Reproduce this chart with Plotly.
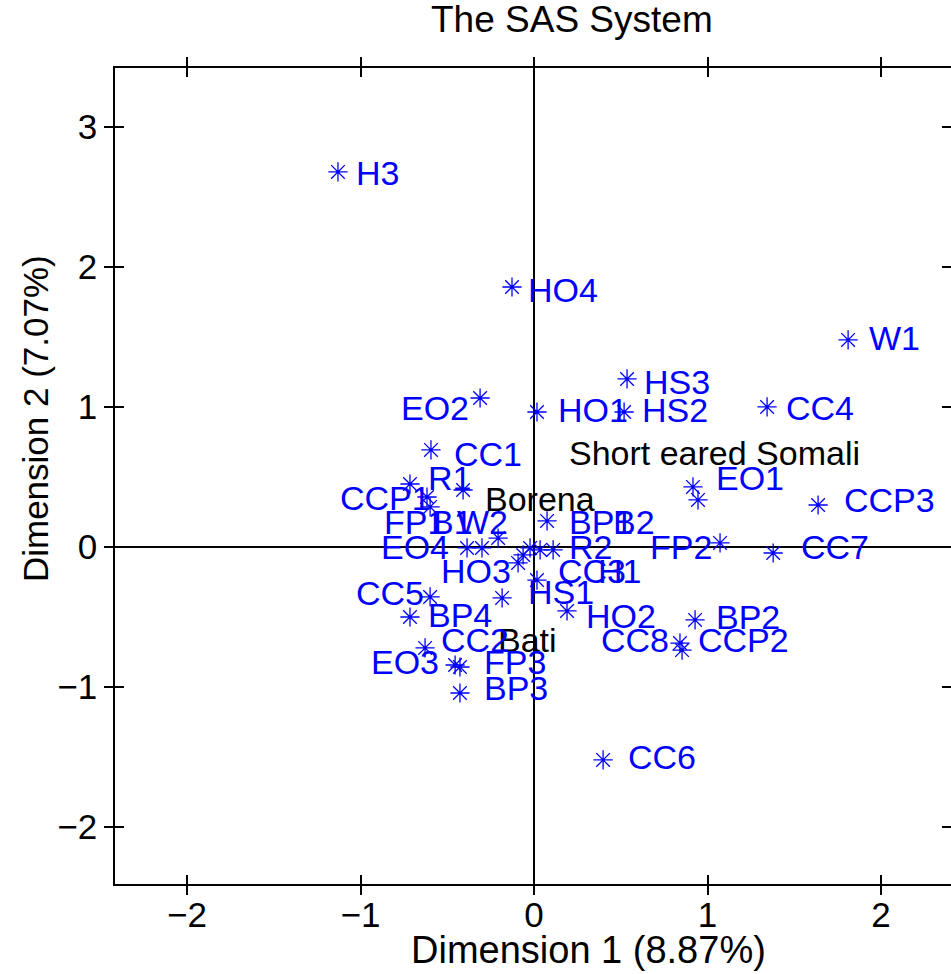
import plotly.graph_objects as go

# ---- data ----
labels = ["H3", "HO4", "W1", "HS3", "EO2", "HO1", "HS2", "CC4", "CC1", "R1",
          "Borena", "CCP1", "B1", "EO1", "Short eared Somali", "CCP3", "BP1", "EO4", "FP1", "W2",
          "CC3", "H1", "B2", "R2", "FP2", "CC7", "HO3", "HS1", "CC5", "Bati",
          "BP4", "HO2", "BP2", "CC2", "EO3", "FP3", "BP3", "CC8", "CCP2", "CC6"]
dim1 = [-1.130, -0.127, 1.810, 0.536, -0.311, 0.017, 0.519, 1.343, -0.594, -0.715,
        -0.409, -0.617, -0.599, 0.916, 0.945, 1.637, 0.075, -0.386, -0.300, -0.207,
        -0.063, -0.023, 0.035, 0.110, 1.072, 1.378, -0.092, 0.017, -0.599, -0.184,
        -0.715, 0.190, 0.928, -0.628, -0.455, -0.427, -0.427, 0.841, 0.853, 0.398]
dim2 = [2.679, 1.857, 1.479, 1.200, 1.064, 0.964, 0.964, 1.000, 0.693, 0.450,
        0.407, 0.357, 0.286, 0.429, 0.336, 0.300, 0.186, -0.007, -0.007, 0.064,
        -0.057, -0.007, -0.021, -0.021, 0.029, -0.043, -0.114, -0.236, -0.357, -0.364,
        -0.500, -0.457, -0.521, -0.721, -0.843, -0.857, -1.043, -0.686, -0.736, -1.521]
breeds = ["Borena", "Short eared Somali", "Bati"]
x_ticks = [-2, -1, 0, 1, 2]
y_ticks = [-2, -1, 0, 1, 2, 3]
x_title = "Dimension 1 (8.87%)"
y_title = "Dimension 2 (7.07%)"
chart_title = "The SAS System"

# ---- label placement (pixel offsets from the marker, anchor side) ----
label_place = {
    "H3": (17, 1, "L"), "HO4": (15, 3, "L"), "W1": (20, -2, "L"), "HS3": (16, 3, "L"),
    "EO2": (-10, 10, "R"), "HO1": (20, -2, "L"), "HS2": (17, -2, "L"), "CC4": (18, 1, "L"),
    "CC1": (22, 4, "L"), "R1": (17, -6, "L"), "Borena": (21, 9, "L"), "CCP1": (5, 1, "R"),
    "B1": (0, 15, "L"), "EO1": (22, -9, "L"), "Short eared Somali": (-130, -47, "L"),
    "CCP3": (25, -5, "L"), "BP1": (21, 1, "L"), "EO4": (-17, -1, "R"), "FP1": (-99, -26, "L"),
    "W2": (-42, -16, "L"), "CC3": (34, 16, "L"), "H1": (67, 23, "L"), "B2": (72, -28, "L"),
    "R2": (15, -3, "L"), "FP2": (-7, 4, "R"), "CC7": (27, -6, "L"), "HO3": (-6, 8, "R"),
    "HS1": (-10, 12, "L"), "CC5": (-5, -4, "R"), "Bati": (-5, 42, "L"), "BP4": (17, -2, "L"),
    "HO2": (18, 5, "L"), "BP2": (20, -3, "L"), "CC2": (15, -8, "L"), "EO3": (-15, -3, "R"),
    "FP3": (23, -5, "L"), "BP3": (23, -5, "L"), "CC8": (-10, -3, "R"), "CCP2": (15, -10, "L"),
    "CC6": (24, -3, "L"),
}

FONT = "Liberation Sans, Arial, sans-serif"
BLUE = "#0000ff"
XR = [-2.415, 2.403]
YR = [-2.407, 3.421]

fig = go.Figure()
fig.add_trace(go.Scatter(
    x=dim1, y=dim2, mode="markers", hoverinfo="text", text=labels,
    marker=dict(symbol="asterisk-open", size=16, color=BLUE,
                line=dict(color=BLUE, width=1.3)),
    showlegend=False))
# helper trace for the overlay axes (inside half of the crossing ticks)
fig.add_trace(go.Scatter(x=[None], y=[None], xaxis="x2", yaxis="y2",
                         mode="markers", showlegend=False, hoverinfo="skip"))

for name, xv, yv in zip(labels, dim1, dim2):
    dx, dy, side = label_place[name]
    fig.add_annotation(
        x=xv, y=yv, text=name, showarrow=False,
        xanchor="left" if side == "L" else "right", yanchor="middle",
        xshift=dx, yshift=-dy, borderpad=0,
        font=dict(family=FONT, size=34, color="black" if name in breeds else BLUE))

axis_common = dict(showgrid=False, ticklen=9, tickwidth=1.5, tickcolor="black")
fig.update_layout(
    width=951, height=974,
    margin=dict(l=115, r=0, t=68, b=90, autoexpand=False),
    paper_bgcolor="white", plot_bgcolor="white",
    font=dict(family=FONT, size=34, color="black"),
    xaxis=dict(range=XR, tickvals=x_ticks, ticks="outside", showline=True,
               linecolor="black", linewidth=1.5, mirror="ticks",
               zeroline=True, zerolinecolor="black", zerolinewidth=1.5,
               tickfont=dict(size=35), ticklabelstandoff=-10, automargin=False,
               **axis_common),
    yaxis=dict(range=YR, tickvals=y_ticks, ticks="outside", showline=True,
               linecolor="black", linewidth=1.5, mirror="ticks",
               zeroline=True, zerolinecolor="black", zerolinewidth=1.5,
               tickfont=dict(size=35), automargin=False, **axis_common),
    xaxis2=dict(range=XR, tickvals=x_ticks, ticks="inside", overlaying="x",
                anchor="y", side="bottom", showticklabels=False, showline=False,
                mirror="ticks", zeroline=False, automargin=False, **axis_common),
    yaxis2=dict(range=YR, tickvals=y_ticks, ticks="inside", overlaying="y",
                anchor="x", side="left", showticklabels=False, showline=False,
                mirror="ticks", zeroline=False, automargin=False, **axis_common),
)

fig.add_annotation(text=chart_title, xref="paper", yref="paper", x=0.547, y=1.059,
                   showarrow=False, xanchor="center", yanchor="middle",
                   font=dict(family=FONT, size=37, color="black"))
fig.add_annotation(text=x_title, xref="paper", yref="paper", x=0.566, y=-0.081,
                   showarrow=False, xanchor="center", yanchor="middle",
                   font=dict(family=FONT, size=38, color="black"))
fig.add_annotation(text=y_title, xref="paper", yref="paper", x=-0.0957, y=0.571,
                   showarrow=False, xanchor="center", yanchor="middle", textangle=-90,
                   font=dict(family=FONT, size=35, color="black"))

fig.write_html("out.html")
